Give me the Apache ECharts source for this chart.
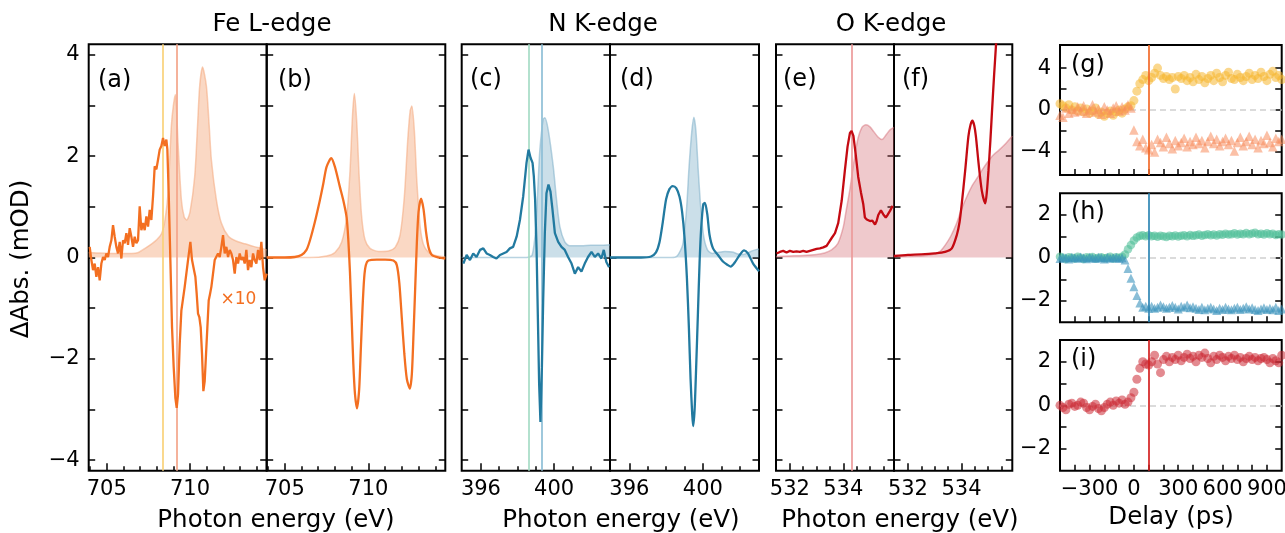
<!DOCTYPE html>
<html><head><meta charset="utf-8">
<script src="https://cdn.jsdelivr.net/npm/echarts@6/dist/echarts.min.js"></script>
<style>html,body{margin:0;padding:0;background:#fff}#c{width:1285px;height:533px}</style>
</head><body><div id="c"></div>
<script>
// ---------------- DATA ----------------
// (a) Fe L-edge measured transient (x10)
const aLineE = [703.98,704.08,704.18,704.28,704.38,704.48,704.58,704.68,704.78,704.88,704.98,705.08,705.18,705.28,705.38,705.48,705.58,705.68,705.78,705.88,705.98,706.08,706.18,706.28,706.38,706.48,706.58,706.68,706.78,706.88,706.98,707.08,707.18,707.28,707.38,707.48,707.58,707.68,707.78,707.88,707.98,708.08,708.18,708.28,708.38,708.48,708.58,708.64,708.72,708.82,708.92,709.02,709.12,709.20,709.28,709.38,709.48,709.68,709.88,710.02,710.12,710.24,710.32,710.40,710.48,710.56,710.64,710.72,710.80,710.88,710.96,711.04,711.12,711.20,711.28,711.38,711.48,711.58,711.68,711.78,711.88,711.98,712.08,712.18,712.28,712.38,712.48,712.58,712.68,712.78,712.88,712.98,713.08,713.18,713.28,713.38,713.48,713.58,713.68,713.78,713.88,713.98,714.08,714.18,714.28,714.38,714.48,714.60];
const aLineV = [0.21,-0.05,-0.25,-0.12,-0.38,-0.19,-0.45,-0.12,0.01,-0.05,0.08,0.01,0.21,0.34,0.64,0.41,0.21,0.08,0.31,-0.02,0.34,0.28,0.48,0.25,0.58,0.41,0.21,0.41,0.28,0.34,1.01,0.54,0.68,0.54,0.81,0.61,0.94,0.74,1.21,1.80,1.74,1.93,2.13,2.20,2.36,2.20,2.33,2.13,1.27,-0.05,-1.38,-2.17,-2.77,-2.97,-2.70,-1.71,-1.05,-0.58,-0.05,0.31,-0.05,-0.25,-0.38,-0.72,-1.11,-1.18,-1.38,-1.91,-2.64,-2.44,-1.91,-1.38,-0.85,-0.72,-0.58,-0.32,-0.05,-0.02,0.08,0.01,0.21,0.44,0.08,0.21,0.01,0.15,0.08,-0.05,-0.32,0.01,-0.12,0.08,-0.05,0.01,-0.12,0.15,-0.25,-0.05,-0.19,0.08,-0.05,-0.12,0.15,-0.05,0.31,-0.19,-0.45,-0.32];
const aFillE = [703.92,704.5,705.5,706.5,706.9,707.3,707.7,708.0,708.3,708.5,708.68,708.88,709.0,709.12,709.28,709.48,709.65,709.8,710.0,710.28,710.45,710.58,710.75,710.98,711.15,711.28,711.58,711.88,712.3,712.8,713.3,713.8,714.3,714.6];
const aFillV = [0.10,0.09,0.08,0.08,0.10,0.18,0.27,0.35,0.48,0.75,1.27,2.6,3.0,3.22,2.26,1.14,0.8,0.74,0.9,1.6,2.6,3.39,3.76,3.39,2.6,1.93,1.14,0.68,0.42,0.32,0.27,0.22,0.18,0.15];
const feMarks = [708.36, 709.22];
// (b) Fe L-edge calculated
const bLineE = [703.92,705.0,705.6,706.0,706.3,706.5,706.8,707.1,707.3,707.5,707.78,708.0,708.3,708.5,708.7,708.8,708.9,709.0,709.1,709.2,709.32,709.45,709.55,709.65,709.75,709.85,710.0,710.5,711.0,711.5,711.7,711.85,712.0,712.15,712.3,712.48,712.6,712.7,712.8,712.9,713.0,713.15,713.3,713.45,713.6,713.8,714.2,714.6];
const bLineV = [0,0,0.01,0.05,0.15,0.33,0.7,1.13,1.45,1.79,1.96,1.79,1.39,1.13,0.79,0.35,-0.3,-1.2,-2.1,-2.7,-2.98,-2.6,-1.8,-1.0,-0.4,-0.15,-0.06,-0.04,-0.04,-0.06,-0.15,-0.5,-1.2,-1.9,-2.4,-2.59,-2.3,-1.5,-0.6,0.3,0.9,1.16,0.95,0.5,0.2,0.05,0.0,-0.02];
const bFillE = [703.92,706.5,707.5,708.0,708.4,708.7,708.9,709.05,709.16,709.3,709.45,709.6,709.8,710.1,710.6,711.2,711.6,711.9,712.15,712.35,712.5,712.6,712.75,712.9,713.1,713.3,713.6,714.0,714.6];
const bFillV = [0,0,0.03,0.1,0.3,0.8,1.7,2.8,3.24,2.7,1.6,0.8,0.35,0.18,0.12,0.13,0.2,0.45,1.2,2.3,2.9,2.99,2.5,1.5,0.6,0.25,0.1,0.04,0.01];
// (c) N K-edge measured
const cLineE = [395.04,395.22,395.40,395.58,395.76,395.95,396.13,396.31,396.49,396.67,396.85,397.04,397.22,397.40,397.58,397.76,397.95,398.13,398.31,398.49,398.60,398.71,398.82,398.89,398.96,399.04,399.11,399.18,399.25,399.33,399.40,399.49,399.58,399.69,399.80,399.91,400.04,400.22,400.40,400.58,400.76,400.95,401.13,401.31,401.49,401.67,401.85,402.04,402.22,402.40,402.58,402.71,402.85,403.0];
const cLineV = [-0.12,0.05,-0.05,0.08,0.01,0.15,0.18,0.08,0.05,0.01,-0.02,0.05,0.08,0.11,0.18,0.21,0.41,0.74,1.21,1.87,2.13,1.97,1.87,1.60,1.14,0.15,-1.18,-2.50,-3.25,-2.17,-0.85,0.48,1.27,1.44,1.30,0.94,0.48,0.31,0.21,0.15,0.01,-0.12,-0.32,-0.19,-0.28,-0.12,0.01,0.11,0.01,0.08,-0.02,0.15,-0.09,-0.19];
const cFillE = [394.95,398.5,398.8,399.0,399.1,399.22,399.4,399.49,399.67,399.95,400.13,400.31,400.58,400.85,401.5,402.0,402.5,403.05];
const cFillV = [0,0,0.05,0.6,1.3,2.13,2.73,2.76,2.53,1.8,1.14,0.61,0.31,0.23,0.23,0.24,0.24,0.25];
const nMarks = [398.6, 399.33];
// (d) N K-edge calculated
const dLineE = [394.95,396.64,397.18,397.45,397.64,397.82,398.0,398.18,398.36,398.55,398.73,398.87,399.0,399.13,399.24,399.33,399.42,399.47,399.55,399.64,399.73,399.82,399.91,400.02,400.11,400.24,400.36,400.55,400.82,401.09,401.36,401.51,401.73,402.0,402.24,402.45,402.73,403.05];
const dLineV = [0,0,0.02,0.1,0.3,0.7,1.15,1.35,1.41,1.37,1.2,0.9,0.4,-0.4,-1.4,-2.4,-3.1,-3.33,-3.0,-2.1,-1.1,-0.1,0.6,1.05,1.08,0.85,0.45,0.18,0.05,-0.08,-0.15,-0.18,-0.1,0.05,0.14,0.08,-0.12,-0.27];
const dFillE = [394.95,398.3,398.6,398.9,399.1,399.25,399.4,399.51,399.62,399.75,399.9,400.05,400.25,400.5,400.8,401.2,401.6,401.9,402.2,402.6,403.05];
const dFillV = [0,0,0.03,0.25,0.9,1.8,2.5,2.77,2.5,1.7,0.9,0.4,0.15,0.08,0.1,0.12,0.11,0.07,0.06,0.12,0.17];
// (e) O K-edge measured
const eLineE = [531.5,531.625,531.75,531.875,532,532.125,532.25,532.375,532.5,532.625,532.75,532.875,533.0,533.125,533.25,533.375,533.46,533.56,533.69,533.81,533.94,534.06,534.16,534.25,534.31,534.38,534.46,534.56,534.66,534.75,534.81,534.88,534.94,535.0,535.09,535.19,535.25,535.31,535.41,535.5,535.59,535.66,535.75,535.85];
const eLineV = [0.08,0.11,0.13,0.1,0.13,0.11,0.12,0.11,0.13,0.11,0.13,0.15,0.17,0.18,0.2,0.23,0.30,0.38,0.48,0.68,1.12,1.72,2.19,2.46,2.50,2.40,2.06,1.59,1.29,1.05,0.79,0.75,0.75,0.72,0.73,0.65,0.72,0.84,0.93,0.85,0.79,0.84,0.92,1.02];
const eFillE = [531.48,532.0,532.5,533.0,533.3,533.56,533.8,534.0,534.1,534.25,534.4,534.55,534.7,534.85,535.0,535.15,535.3,535.45,535.6,535.75,535.9];
const eFillV = [0.02,0.03,0.04,0.06,0.09,0.15,0.28,0.6,0.9,1.35,1.9,2.35,2.57,2.62,2.58,2.48,2.38,2.33,2.42,2.52,2.57];
const oMarks = [534.31];
// (f) O K-edge calculated
const fLineE = [531.48,532.0,532.5,533.0,533.39,533.64,533.83,533.93,534.01,534.14,534.26,534.34,534.41,534.48,534.54,534.64,534.76,534.89,534.95,535.01,535.08,535.14,535.22,535.29,535.36];
const fLineV = [0.03,0.05,0.06,0.08,0.11,0.18,0.45,0.7,1.05,1.72,2.39,2.62,2.70,2.6,2.39,1.86,1.32,1.07,1.3,1.72,2.3,2.87,3.6,4.19,4.9];
const fFillE = [531.48,532.5,533.0,533.2,533.4,533.6,533.8,534.0,534.2,534.4,534.6,534.8,535.0,535.2,535.4,535.6,535.9];
const fFillV = [0.02,0.03,0.07,0.12,0.25,0.42,0.65,0.95,1.2,1.42,1.58,1.75,1.9,2.03,2.12,2.22,2.4];
// (g)-(i) delay scans
const delays = [-500,-480,-460,-440,-420,-400,-380,-360,-340,-320,-300,-280,-260,-240,-220,-200,-180,-160,-140,-120,-100,-80,-60,-40,-20,0,20,40,60,80,100,120,140,160,180,200,220,240,260,280,300,320,340,360,380,400,420,440,460,480,500,520,540,560,580,600,620,640,660,680,700,720,740,760,780,800,820,840,860,880,900,920,940,960,980,1000];
const gFeCirc = [0.6,0.4,0.2,0.5,0.0,0.3,-0.1,0.2,-0.2,0.1,-0.3,-0.1,0.2,-0.4,-0.2,-0.6,-0.3,-0.1,-0.5,-0.2,0.0,-0.3,0.1,0.3,0.4,0.9,1.8,2.5,2.9,3.3,2.8,3.1,3.5,4.0,3.3,3.0,3.2,2.9,3.1,2.0,3.2,3.0,3.3,2.8,3.1,2.7,3.4,2.9,3.2,2.6,3.0,3.3,2.8,3.5,3.1,2.7,3.3,3.6,3.0,2.9,3.4,3.1,2.8,3.2,3.5,2.9,3.3,3.0,3.6,3.2,2.8,3.4,3.7,3.1,3.3,2.9];
const gFeTri = [-0.5,-0.7,0.2,-0.3,0.1,-0.2,0.3,-0.1,0.4,-0.3,0.0,0.5,-0.2,0.1,-0.4,0.3,0.0,-0.3,0.2,0.4,-0.1,0.3,0.0,0.5,0.2,-1.9,-3.0,-3.4,-2.8,-3.6,-3.8,-3.3,-4.0,-2.8,-3.1,-3.5,-2.6,-3.2,-3.7,-2.9,-3.4,-3.1,-2.7,-3.5,-3.0,-3.3,-2.6,-3.2,-2.9,-3.6,-3.0,-2.5,-3.2,-2.8,-3.4,-3.0,-2.7,-3.3,-2.9,-3.9,-3.1,-2.6,-3.4,-3.0,-2.5,-3.3,-2.8,-3.6,-2.9,-3.2,-2.4,-3.1,-3.5,-2.7,-3.0,-2.8];
const hNCirc = [0.05,0.0,-0.05,0.03,0.0,-0.03,0.05,0.0,-0.05,0.02,0.0,0.04,-0.03,0.0,0.03,-0.02,0.0,0.05,-0.03,0.02,0.0,0.05,0.15,0.4,0.6,0.8,0.95,1.02,1.05,1.0,1.05,1.0,1.02,0.98,1.03,1.0,0.97,1.02,1.0,1.04,0.99,1.03,1.05,1.0,1.06,1.02,1.05,1.08,1.03,1.06,1.1,1.05,1.08,1.04,1.1,1.07,1.12,1.08,1.1,1.14,1.08,1.12,1.09,1.15,1.1,1.13,1.17,1.1,1.12,1.08,1.14,1.1,1.12,1.06,1.1,1.08];
const hNTri = [-0.03,0.02,0.0,-0.05,0.03,0.0,-0.02,0.04,0.0,-0.04,0.02,0.0,-0.03,0.03,0.0,-0.05,0.02,-0.02,0.0,0.03,-0.03,0.0,-0.1,-0.5,-0.95,-1.35,-1.75,-2.1,-2.3,-2.25,-2.35,-2.25,-2.35,-2.3,-2.2,-2.28,-2.35,-2.3,-2.22,-2.3,-2.38,-2.25,-2.3,-2.2,-2.32,-2.28,-2.35,-2.4,-2.3,-2.42,-2.35,-2.3,-2.38,-2.45,-2.35,-2.4,-2.3,-2.38,-2.42,-2.35,-2.3,-2.4,-2.35,-2.28,-2.38,-2.32,-2.4,-2.45,-2.38,-2.32,-2.4,-2.35,-2.42,-2.3,-2.45,-2.38];
const iOCirc = [0.0,-0.1,-0.2,0.05,0.1,-0.05,0.0,0.15,0.1,-0.1,-0.2,-0.05,0.05,-0.15,-0.25,-0.1,0.05,0.15,0.0,0.2,0.1,0.25,0.05,0.15,0.35,0.6,1.2,1.7,2.0,1.9,1.85,2.0,2.3,1.9,1.5,2.1,2.25,2.0,2.2,2.1,2.3,2.05,2.2,2.35,2.15,2.25,2.0,2.3,2.2,2.4,2.15,1.95,2.25,2.1,2.3,2.2,2.05,2.25,2.15,2.3,2.1,2.2,2.0,2.15,2.25,2.1,2.2,2.05,2.15,2.2,2.1,1.95,2.15,2.05,1.95,2.3];
const delayMark = [100];
// tick labels
const feTicks = [705, 710], feMinor = [704,706,707,708,709,711,712,713,714];
const nTicks = [396, 400], nMinor = [397,398,399,401,402];
const oTicks = [532, 534], oMinor = [532.5,533,533.5,534.5,535,535.5];
const specYTicks = [-4,-3,-2,-1,0,1,2,3,4], specYLabels = [-4,-2,0,2,4];
const delayTicks = [-400,-300,-200,-100,0,100,200,300,400,500,600,700,800,900], delayLabels = [-300,0,300,600,900];
const gYTicks = [-4,-2,0,2,4], gYLabels = [-4,0,4];
const hiYTicks = [-2,-1,0,1,2], hiYLabels = [-2,0,2];

// ---------------- CHART ----------------
const FONT = 'DejaVu Sans';
const FE = '#f36f21', FE_FILL = 'rgba(244,168,124,0.45)', FE_EDGE = 'rgba(244,168,124,0.55)';
const NC = '#227aa0', N_FILL = 'rgba(125,175,200,0.40)', N_EDGE = 'rgba(125,175,200,0.55)';
const OC = '#c40a12', O_FILL = 'rgba(210,100,110,0.35)', O_EDGE = 'rgba(210,100,110,0.45)';

function pair(xs, ys) { return xs.map((x, i) => [x, ys[i]]); }
function fmt(v) { return v < 0 ? '\u2212' + (-v) : String(v); }
function tickAxis(gi, pos, min, max, ticks, len, labels, margin) {
  return {
    type: 'value', gridIndex: gi, position: pos, min: min, max: max,
    axisLine: { show: false, onZero: false }, splitLine: { show: false }, minorTick: { show: false },
    axisTick: { show: true, inside: true, length: len, lineStyle: { color: '#000', width: 1.5 }, customValues: ticks },
    axisLabel: labels ? { show: true, customValues: labels, formatter: fmt, margin: margin, color: '#000', fontFamily: FONT, fontSize: 21, hideOverlap: false } : { show: false },
    axisPointer: { show: false }
  };
}
function vMark(vals, colors, z) {
  return { symbol: 'none', silent: true, animation: false, z: z, label: { show: false }, emphasis: { disabled: true },
    lineStyle: { type: 'solid', width: 1.6 },
    data: vals.map((v, j) => ({ xAxis: v, lineStyle: { color: colors[j], width: 1.7, type: 'solid' } })) };
}

const grids = [], xAxes = [], yAxes = [], series = [];
const GT = 44.3, GH = 426.4, BW = 2;
const panelsL = [
  { left: 88.7, width: 178, xMin: 703.92, xMax: 714.6, maj: feTicks, min: feMinor, yLab: true, fE: aFillE, fV: aFillV, lE: aLineE, lV: aLineV, lc: FE, fc: FE_FILL, ec: FE_EDGE, marks: feMarks, mc: ['#f9d27a', '#f4a58a'], sm: false },
  { left: 266.7, width: 178.6, xMin: 703.92, xMax: 714.6, maj: feTicks, min: feMinor, yLab: false, fE: bFillE, fV: bFillV, lE: bLineE, lV: bLineV, lc: FE, fc: FE_FILL, ec: FE_EDGE, marks: [], mc: [], sm: 0.25 },
  { left: 461.7, width: 148.3, xMin: 394.95, xMax: 403.05, maj: nTicks, min: nMinor, yLab: false, fE: cFillE, fV: cFillV, lE: cLineE, lV: cLineV, lc: NC, fc: N_FILL, ec: N_EDGE, marks: nMarks, mc: ['#a6dcc6', '#8ebfd6'], sm: false },
  { left: 610, width: 149, xMin: 394.95, xMax: 403.05, maj: nTicks, min: nMinor, yLab: false, fE: dFillE, fV: dFillV, lE: dLineE, lV: dLineV, lc: NC, fc: N_FILL, ec: N_EDGE, marks: [], mc: [], sm: 0.25 },
  { left: 776, width: 118, xMin: 531.48, xMax: 535.9, maj: oTicks, min: oMinor, yLab: false, fE: eFillE, fV: eFillV, lE: eLineE, lV: eLineV, lc: OC, fc: O_FILL, ec: O_EDGE, marks: oMarks, mc: ['#ec9a9a'], sm: false },
  { left: 894, width: 118.3, xMin: 531.48, xMax: 535.9, maj: oTicks, min: oMinor, yLab: false, fE: fFillE, fV: fFillV, lE: fLineE, lV: fLineV, lc: OC, fc: O_FILL, ec: O_EDGE, marks: [], mc: [], sm: 0.25 }
];
panelsL.forEach(p => {
  const gi = grids.length;
  grids.push({ left: p.left, top: GT, width: p.width, height: GH, show: true, borderColor: '#000', borderWidth: BW, backgroundColor: 'rgba(0,0,0,0)', outerBoundsMode: 'none' });
  const xi = xAxes.length;
  xAxes.push(tickAxis(gi, 'bottom', p.xMin, p.xMax, p.maj, 7.5, p.maj, 8));
  xAxes.push(tickAxis(gi, 'bottom', p.xMin, p.xMax, p.min, 4.5, null));
  const yi = yAxes.length;
  yAxes.push(tickAxis(gi, 'left', -4.21, 4.21, specYTicks, 6.5, p.yLab ? specYLabels : null, 9));
  yAxes.push(tickAxis(gi, 'right', -4.21, 4.21, specYTicks, 6.5, null));
  const fs = { type: 'line', xAxisIndex: xi, yAxisIndex: yi, data: pair(p.fE, p.fV), symbol: 'none', smooth: 0.25,
    lineStyle: { color: p.ec, width: 1.5 }, areaStyle: { color: p.fc, opacity: 1 }, z: 2, silent: true };
  if (p.marks.length) fs.markLine = vMark(p.marks, p.mc, 5);
  series.push(fs);
  series.push({ type: 'line', xAxisIndex: xi, yAxisIndex: yi, data: pair(p.lE, p.lV), symbol: 'none', smooth: p.sm,
    lineStyle: { color: p.lc, width: 2.3 }, z: 10, silent: true });
});

const panelsR = [
  { top: 45, height: 130, yMin: -6.2, yMax: 6.2, yt: gYTicks, yl: gYLabels, xl: false, vc: '#f26a2a',
    sets: [{ v: gFeCirc, sym: 'circle', size: 9, c: '#f5b730', o: 0.55 }, { v: gFeTri, sym: 'triangle', size: 9.5, c: '#f78d5c', o: 0.55 }] },
  { top: 193.3, height: 129, yMin: -3, yMax: 3, yt: hiYTicks, yl: hiYLabels, xl: false, vc: '#2f86b4',
    sets: [{ v: hNCirc, sym: 'circle', size: 8.5, c: '#52c09a', o: 0.6 }, { v: hNTri, sym: 'triangle', size: 9, c: '#3a93bd', o: 0.6 }] },
  { top: 340, height: 130.7, yMin: -3, yMax: 3, yt: hiYTicks, yl: hiYLabels, xl: true, vc: '#d42020',
    sets: [{ v: iOCirc, sym: 'circle', size: 9, c: '#cc2a35', o: 0.55 }] }
];
panelsR.forEach(p => {
  const gi = grids.length;
  grids.push({ left: 1060, top: p.top, width: 221.7, height: p.height, show: true, borderColor: '#000', borderWidth: BW, backgroundColor: 'rgba(0,0,0,0)', outerBoundsMode: 'none' });
  const xi = xAxes.length;
  xAxes.push(tickAxis(gi, 'bottom', -500, 1000, delayTicks, 6, p.xl ? delayLabels : null, 8));
  const yi = yAxes.length;
  yAxes.push(tickAxis(gi, 'left', p.yMin, p.yMax, p.yt, 6.5, p.yl, 9));
  yAxes.push(tickAxis(gi, 'right', p.yMin, p.yMax, p.yt, 6.5, null));
  series.push({ type: 'line', xAxisIndex: xi, yAxisIndex: yi, data: [], silent: true,
    markLine: { z: 1, symbol: 'none', silent: true, animation: false, label: { show: false }, emphasis: { disabled: true },
      lineStyle: { color: '#cfcfcf', width: 1.5, type: [6, 4] }, data: [{ yAxis: 0 }] } });
  p.sets.forEach((s, j) => {
    const sc = { type: 'scatter', xAxisIndex: xi, yAxisIndex: yi, data: pair(delays, s.v), symbol: s.sym, symbolSize: s.size,
      itemStyle: { color: s.c, opacity: s.o }, z: 2, silent: true };
    if (j === p.sets.length - 1) sc.markLine = vMark(delayMark, [p.vc], 5);
    series.push(sc);
  });
});

function txt(x, y, s, size, extra) {
  return Object.assign({ type: 'text', x: x, y: y, silent: true,
    style: { text: s, fill: '#000', font: size + 'px "' + FONT + '"', align: 'center', verticalAlign: 'middle' } }, extra || {});
}
const graphics = [
  txt(272, 25, 'Fe L-edge', 24.5), txt(603, 25, 'N K-edge', 24.5), txt(891, 25, 'O K-edge', 24.5),
  txt(276, 521, 'Photon energy (eV)', 24.5), txt(621, 521, 'Photon energy (eV)', 24.5), txt(900, 521, 'Photon energy (eV)', 24.5),
  txt(1171, 518, 'Delay (ps)', 24.5),
  txt(22, 259, '\u0394Abs. (mOD)', 24.5, { rotation: Math.PI / 2 })
];
[['(a)', 98, 81], ['(b)', 278, 81], ['(c)', 470, 80], ['(d)', 620, 80], ['(e)', 783, 80], ['(f)', 902, 80],
 ['(g)', 1071, 66], ['(h)', 1071, 213], ['(i)', 1071, 360]].forEach(l => {
  const t = txt(l[1], l[2], l[0], 24);
  t.style.align = 'left';
  graphics.push(t);
});
const x10 = txt(238.5, 300, '\u00d710', 17);
x10.style.fill = FE;
graphics.push(x10);

const chart = echarts.init(document.getElementById('c'), null, { renderer: 'canvas' });
chart.setOption({
  animation: false, backgroundColor: '#fff',
  textStyle: { fontFamily: FONT },
  grid: grids, xAxis: xAxes, yAxis: yAxes, series: series, graphic: graphics
});
</script></body></html>
